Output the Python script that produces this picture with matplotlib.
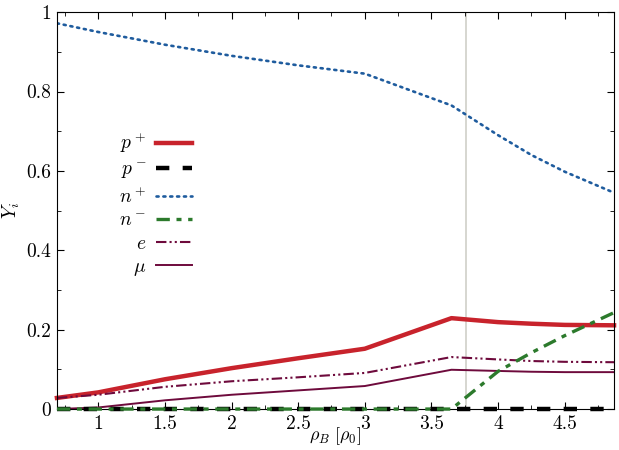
import numpy as np
import matplotlib
matplotlib.use("Agg")
import matplotlib.pyplot as plt
from matplotlib.ticker import MultipleLocator, FuncFormatter

plt.rcParams['font.family'] = 'serif'
plt.rcParams['font.serif'] = ['cmr10', 'DejaVu Serif']
plt.rcParams['mathtext.fontset'] = 'cm'
plt.rcParams['axes.formatter.use_mathtext'] = True

# baryon density in units of rho_0
rho = [0.69, 1.0, 1.5, 2.0, 2.5, 3.0, 3.65, 4.0, 4.25, 4.5, 4.87]

# particle fractions Y_i
y_pplus  = [0.028, 0.042, 0.075, 0.103, 0.128, 0.152, 0.229, 0.219, 0.215, 0.212, 0.211]
y_pminus = [0.0, 0.0, 0.0, 0.0, 0.0, 0.0, 0.0, 0.0, 0.0, 0.0, 0.0]
y_nplus  = [0.972, 0.950, 0.918, 0.890, 0.866, 0.845, 0.765, 0.690, 0.640, 0.598, 0.545]
y_nminus = [0.0, 0.0, 0.0, 0.0, 0.0, 0.0, 0.0, 0.095, 0.142, 0.185, 0.243]
y_e      = [0.028, 0.036, 0.056, 0.070, 0.080, 0.091, 0.131, 0.125, 0.121, 0.119, 0.118]
y_mu     = [0.0, 0.004, 0.022, 0.036, 0.047, 0.058, 0.099, 0.096, 0.094, 0.093, 0.093]

rho_c = 3.76   # vertical marker

fig = plt.figure(figsize=(6.19, 4.5), dpi=100)
ax = fig.add_axes([0.092, 0.091, 0.9, 0.882])

ax.axvline(rho_c, color='#d0d0c8', lw=1.2, zorder=1)

ax.plot(rho, y_pplus, color='#c8232c', lw=3.2, label=r'$p^+$', clip_on=False)
ax.plot(rho, y_pminus, color='black', lw=3.2, ls=(0, (3, 3)), label=r'$p^-$', clip_on=False, zorder=3)
ax.plot(rho, y_nplus, color='#1f5c9e', lw=1.9, ls=(0, (0.8, 1.8)), dash_capstyle='round', label=r'$n^+$')
ax.plot(rho, y_nminus, color='#2c7a2c', lw=2.4, ls=(0, (4, 2, 1.5, 2)), label=r'$n^-$', clip_on=False, zorder=4)
ax.plot(rho, y_e, color='#6e0a3c', lw=1.5, ls=(0, (5, 1.5, 1, 1.5, 1, 1.5)), label=r'$e$')
ax.plot(rho, y_mu, color='#6e0a3c', lw=1.4, label=r'$\mu$')

ax.set_xlim(0.69, 4.87)
ax.set_ylim(0, 1)
ax.xaxis.set_major_locator(MultipleLocator(0.5))
ax.xaxis.set_minor_locator(MultipleLocator(0.25))
ax.yaxis.set_major_locator(MultipleLocator(0.2))
ax.yaxis.set_minor_locator(MultipleLocator(0.1))
fmt = FuncFormatter(lambda v, p: ('%g' % round(v, 3)))
ax.xaxis.set_major_formatter(fmt)
ax.yaxis.set_major_formatter(fmt)
ax.tick_params(which='both', direction='in', top=True, right=True, labelsize=14, pad=4)
ax.tick_params(which='major', length=5)
ax.tick_params(which='minor', length=3)
for s in ax.spines.values():
    s.set_linewidth(0.8)

ax.set_xlabel(r'$\rho_B\ [\rho_0]$', fontsize=13, labelpad=-5)
ax.set_ylabel(r'$Y_i$', fontsize=14, labelpad=3)

leg = ax.legend(loc='upper left', bbox_to_anchor=(0.08, 0.745), frameon=False,
                markerfirst=False, fontsize=14, handlelength=1.85,
                labelspacing=0.27, handletextpad=0.5)

fig.savefig('out.png', dpi=100)
